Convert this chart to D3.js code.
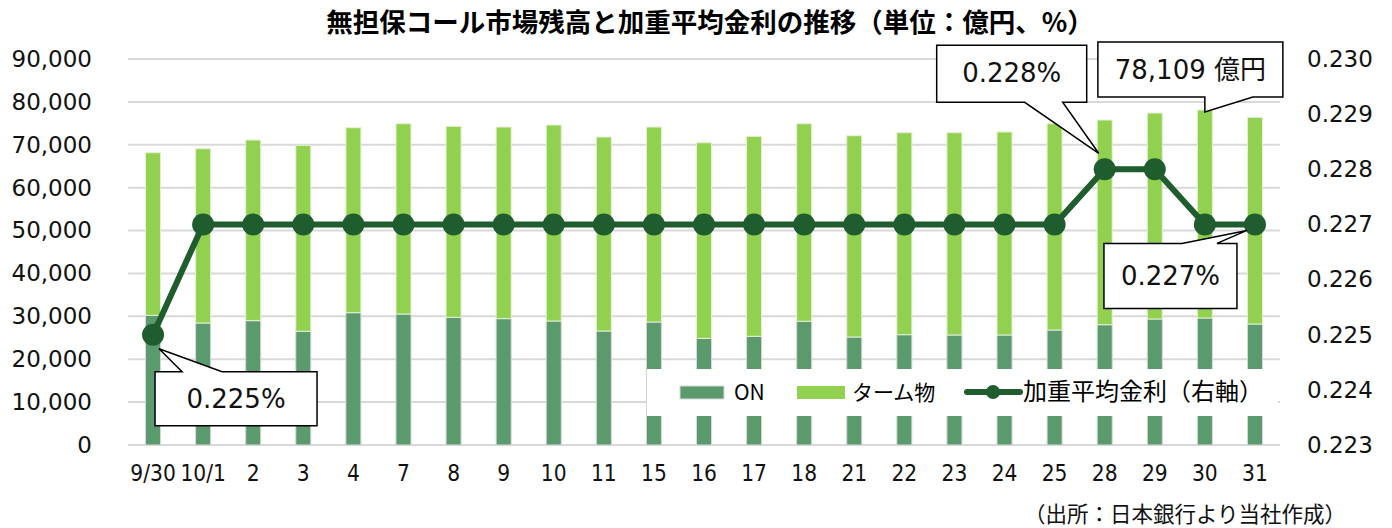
<!DOCTYPE html>
<html><head><meta charset="utf-8">
<script src="https://cdn.jsdelivr.net/npm/d3@7/dist/d3.min.js"></script>
<style>
html,body{margin:0;padding:0;background:#fff;}
svg{display:block;}
</style></head>
<body>
<svg id="c" width="1392" height="528"></svg>
<script>
const categories = ["9/30","10/1","2","3","4","7","8","9","10","11","15","16","17","18","21","22","23","24","25","28","29","30","31"];
const onValues   = [30240,28440,28990,26510,30850,30540,29770,29460,28910,26580,28680,24870,25340,28840,25180,25720,25650,25650,26810,28050,29380,29610,28210];
const totalValues= [68150,69080,71110,69870,73980,74910,74300,74140,74610,71810,74140,70480,71970,74910,72120,72820,72820,72980,74910,75780,77410,78109,76400];
const termValues = totalValues.map((t,i)=>t-onValues[i]);
const rateValues = [0.225,0.227,0.227,0.227,0.227,0.227,0.227,0.227,0.227,0.227,0.227,0.227,0.227,0.227,0.227,0.227,0.227,0.227,0.227,0.228,0.228,0.227,0.227];
const leftTicks  = [0,10000,20000,30000,40000,50000,60000,70000,80000,90000];
const rightTicks = [0.223,0.224,0.225,0.226,0.227,0.228,0.229,0.230];
const seriesNames = ["ON","ターム物","加重平均金利（右軸）"];
const titleText = "無担保コール市場残高と加重平均金利の推移（単位：億円、%）";
const sourceText = "（出所：日本銀行より当社作成）";

const C_ON = "#5b9a6d", C_TERM = "#92d050", C_LINE = "#1f5c2e";
const NUM_FONT = "'DejaVu Sans', Verdana, sans-serif";
const CJK_FONT = "'Noto Sans CJK JP', 'Noto Sans', sans-serif";

const svg = d3.select("#c");
const x = d3.scaleBand().domain(categories).range([128,1280]).paddingInner(0.7).paddingOuter(0.35);
const yL = d3.scaleLinear().domain([0,90000]).range([445,59]);
const yR = d3.scaleLinear().domain([0.223,0.230]).range([445,59]);
const cx = c => x(c) + x.bandwidth()/2;

// title
svg.append("text").attr("x",710).attr("y",32).attr("text-anchor","middle")
  .attr("font-family",CJK_FONT).attr("font-weight","bold").attr("font-size",26.5).attr("fill","#000")
  .text(titleText);

// grid
svg.append("g").selectAll("line").data(leftTicks).join("line")
  .attr("x1",128).attr("x2",1280).attr("y1",d=>yL(d)).attr("y2",d=>yL(d))
  .attr("stroke","#d9d9d9").attr("stroke-width",2);

// left axis
const axL = d3.axisLeft(yL).tickValues(leftTicks).tickFormat(d3.format(",")).tickSize(0).tickPadding(0);
const gL = svg.append("g").attr("transform","translate(92,0)").call(axL);
gL.select(".domain").remove();
gL.selectAll("text").attr("font-family",NUM_FONT).attr("font-size",23).attr("fill","#111");

// right axis
const axR = d3.axisRight(yR).tickValues(rightTicks).tickFormat(d3.format(".3f")).tickSize(0).tickPadding(0);
const gR = svg.append("g").attr("transform","translate(1307,0)").call(axR);
gR.select(".domain").remove();
gR.selectAll("text").attr("font-family",NUM_FONT).attr("font-size",23).attr("fill","#111");

// x axis
const axB = d3.axisBottom(x).tickSize(0).tickPadding(0);
const gB = svg.append("g").attr("transform","translate(0,465)").call(axB);
gB.select(".domain").remove();
gB.selectAll("text").attr("font-family","'DejaVu Sans Condensed', 'DejaVu Sans', sans-serif")
  .attr("font-size",22.5).attr("fill","#111").attr("dy","0.71em");

// bars
const bars = svg.append("g");
bars.selectAll("rect.on").data(categories).join("rect").attr("class","on")
  .attr("x",d=>x(d)).attr("width",x.bandwidth())
  .attr("y",(d,i)=>yL(onValues[i])).attr("height",(d,i)=>yL(0)-yL(onValues[i]))
  .attr("fill",C_ON).attr("stroke","#d8d8d8").attr("stroke-width",1);
bars.selectAll("rect.term").data(categories).join("rect").attr("class","term")
  .attr("x",d=>x(d)).attr("width",x.bandwidth())
  .attr("y",(d,i)=>yL(onValues[i]+termValues[i])).attr("height",(d,i)=>yL(onValues[i])-yL(onValues[i]+termValues[i]))
  .attr("fill",C_TERM).attr("stroke","#e4f2d6").attr("stroke-width",1);

// line
const line = d3.line().x((d,i)=>cx(categories[i])).y(d=>yR(d));
svg.append("path").datum(rateValues).attr("d",line).attr("fill","none")
  .attr("stroke",C_LINE).attr("stroke-width",6).attr("stroke-linejoin","round");
svg.append("g").selectAll("circle").data(rateValues).join("circle")
  .attr("cx",(d,i)=>cx(categories[i])).attr("cy",d=>yR(d)).attr("r",11).attr("fill",C_LINE);

// legend
const lg = svg.append("g");
lg.append("rect").attr("x",647).attr("y",369).attr("width",631).attr("height",47).attr("fill","#fff");
lg.append("rect").attr("x",680).attr("y",386).attr("width",44).attr("height",13).attr("fill",C_ON).attr("stroke","#d8d8d8");
lg.append("text").attr("x",734).attr("y",400).attr("font-family",CJK_FONT).attr("font-size",21).text(seriesNames[0]);
lg.append("rect").attr("x",797).attr("y",386).attr("width",48).attr("height",13).attr("fill",C_TERM);
lg.append("text").attr("x",852).attr("y",400).attr("font-family",CJK_FONT).attr("font-size",21).text(seriesNames[1]);
lg.append("line").attr("x1",967).attr("x2",1020).attr("y1",392).attr("y2",392).attr("stroke",C_LINE).attr("stroke-width",6).attr("stroke-linecap","round");
lg.append("circle").attr("cx",993).attr("cy",392).attr("r",7).attr("fill",C_LINE);
lg.append("text").attr("x",1023).attr("y",400).attr("font-family",CJK_FONT).attr("font-size",24).text(seriesNames[2]);

// callouts
function callout(tip, box, b1, b2, side, label, ty){
  const [x0,y0,x1,y1] = box;
  let p;
  if(side==="top"){
    p = `M${x0},${y0}L${b1},${y0}L${tip[0]},${tip[1]}L${b2},${y0}L${x1},${y0}L${x1},${y1}L${x0},${y1}Z`;
  } else {
    p = `M${x0},${y0}L${x1},${y0}L${x1},${y1}L${b2},${y1}L${tip[0]},${tip[1]}L${b1},${y1}L${x0},${y1}Z`;
  }
  svg.append("path").attr("d",p).attr("fill","#fff").attr("stroke","#000").attr("stroke-width",1.5);
  svg.append("text").attr("x",(x0+x1)/2).attr("y",ty).attr("text-anchor","middle")
    .attr("font-family",NUM_FONT + ", " + CJK_FONT).attr("font-size",26).attr("fill","#111").text(label);
}
const i0 = 0, i28 = categories.indexOf("28"), i30 = categories.indexOf("30"), i31 = categories.indexOf("31");
{
  const px = cx(categories[i0]), py = yR(rateValues[i0]);
  const t = [px+6, py+14];
  callout(t, [t[0]-4, t[1]+23, t[0]+158, t[1]+77], t[0]+23, t[0]+63, "top", rateValues[i0].toFixed(3)+"%", t[1]+59);
}
{
  const px = cx(categories[i28]), py = yR(rateValues[i28]);
  const t = [px-6, py-16];
  callout(t, [t[0]-162, t[1]-108, t[0]-12, t[1]-51], t[0]-74, t[0]-36, "bottom", rateValues[i28].toFixed(3)+"%", t[1]-71);
}
{
  const px = cx(categories[i30]), py = yL(totalValues[i30]);
  const t = [px, py+2];
  callout(t, [t[0]-107, t[1]-70, t[0]+78, t[1]-15], t[0], t[0]+48, "bottom", d3.format(",")(totalValues[i30])+" 億円", t[1]-33);
}
{
  const px = cx(categories[i31]), py = yR(rateValues[i31]);
  const t = [px-8, py+6];
  callout(t, [t[0]-143, t[1]+13, t[0]-10, t[1]+78], t[0]-65, t[0]-30, "top", rateValues[i31].toFixed(3)+"%", t[1]+55);
}

// source
svg.append("text").attr("x",1346).attr("y",522).attr("text-anchor","end")
  .attr("font-family",CJK_FONT).attr("font-size",21.5).attr("fill","#111").text(sourceText);
</script>
</body></html>
